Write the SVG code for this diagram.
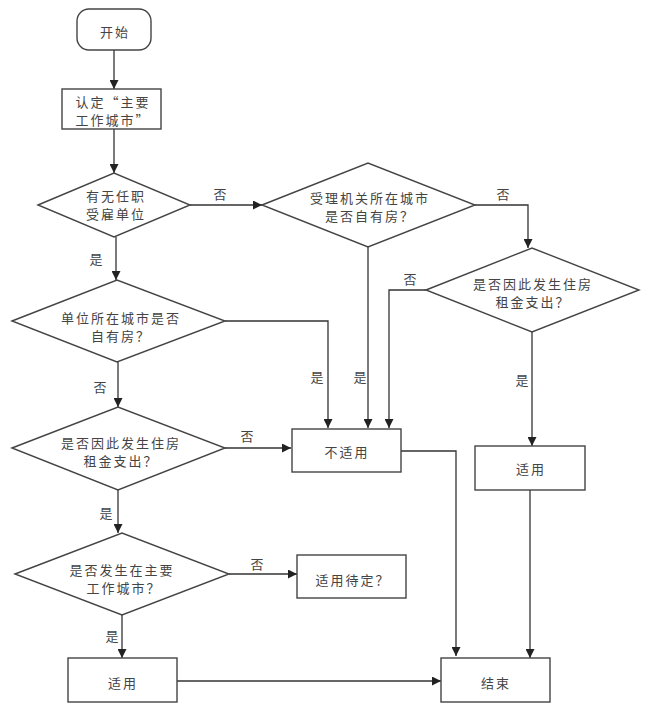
<svg xmlns="http://www.w3.org/2000/svg" width="646" height="710" viewBox="0 0 646 710">
<defs>
<marker id="ah" viewBox="0 0 10 10" refX="10" refY="5" markerWidth="9" markerHeight="9" markerUnits="userSpaceOnUse" orient="auto">
<path d="M0,0 L10,5 L0,10 z" fill="#222"/>
</marker>
<style>
.n{fill:#fff;stroke:#444;stroke-width:1.4}
.t{font-family:"Noto Sans CJK SC","Noto Sans",sans-serif;font-size:13px;fill:#444;text-anchor:middle;dominant-baseline:central;letter-spacing:2px}
.l{font-family:"Noto Sans CJK SC","Noto Sans",sans-serif;font-size:13px;fill:#444;text-anchor:middle;dominant-baseline:central}
.c{fill:none;stroke:#333;stroke-width:1.3;marker-end:url(#ah)}
</style>
</defs>
<rect width="646" height="710" fill="#fff"/>
<g id="connectors">
<path class="c" d="M114,50 V89"/>
<path class="c" d="M114,129 V173"/>
<path class="c" d="M190,205 H262"/>
<path class="c" d="M116,237 V280"/>
<path class="c" d="M118,362 V407"/>
<path class="c" d="M225,321 H328 V428"/>
<path class="c" d="M368,247 V428"/>
<path class="c" d="M475,205 H528 V248"/>
<path class="c" d="M426,290 H389 V428"/>
<path class="c" d="M532,332 V446"/>
<path class="c" d="M225,448 H291"/>
<path class="c" d="M118,490 V533"/>
<path class="c" d="M229,574 H297"/>
<path class="c" d="M122,615 V658"/>
<path class="c" d="M177,681 H441"/>
<path class="c" d="M401,451 H456 V656"/>
<path class="c" d="M530,490 V658"/>
<text class="l" x="220" y="193">否</text>
<text class="l" x="96" y="258">是</text>
<text class="l" x="503" y="193">否</text>
<text class="l" x="410" y="278">否</text>
<text class="l" x="100" y="386">否</text>
<text class="l" x="317" y="376">是</text>
<text class="l" x="360" y="376">是</text>
<text class="l" x="522" y="379">是</text>
<text class="l" x="247" y="435">否</text>
<text class="l" x="106" y="512">是</text>
<text class="l" x="257" y="563">否</text>
<text class="l" x="112" y="635">是</text>
</g>
<g id="start">
<rect class="n" x="77" y="9" width="74" height="41" rx="12"/>
<text class="t" x="115" y="31">开始</text>
</g>
<g id="define">
<rect class="n" x="62" y="89" width="99" height="40"/>
<text class="t" x="113" y="101">认定“主要</text>
<text class="t" x="113" y="119">工作城市”</text>
</g>
<g id="d1">
<polygon class="n" points="38,205 114,173 190,205 114,237"/>
<text class="t" x="116" y="195">有无任职</text>
<text class="t" x="116" y="213">受雇单位</text>
</g>
<g id="d2">
<polygon class="n" points="262,205 368,163 475,205 368,247"/>
<text class="t" x="370" y="197">受理机关所在城市</text>
<text class="t" x="370" y="215">是否自有房？</text>
</g>
<g id="d3">
<polygon class="n" points="426,290 532,248 639,290 532,332"/>
<text class="t" x="533" y="283">是否因此发生住房</text>
<text class="t" x="533" y="301">租金支出？</text>
</g>
<g id="d4">
<polygon class="n" points="12,321 117,280 225,321 117,362"/>
<text class="t" x="121" y="317">单位所在城市是否</text>
<text class="t" x="121" y="335">自有房？</text>
</g>
<g id="d5">
<polygon class="n" points="12,448 118,407 225,448 118,490"/>
<text class="t" x="121" y="442">是否因此发生住房</text>
<text class="t" x="121" y="460">租金支出？</text>
</g>
<g id="d6">
<polygon class="n" points="15,574 122,533 229,574 122,615"/>
<text class="t" x="122" y="569">是否发生在主要</text>
<text class="t" x="124" y="587">工作城市？</text>
</g>
<g id="na">
<rect class="n" x="292" y="429" width="109" height="43"/>
<text class="t" x="347" y="451">不适用</text>
</g>
<g id="applyR">
<rect class="n" x="475" y="446" width="110" height="44"/>
<text class="t" x="531" y="468">适用</text>
</g>
<g id="pending">
<rect class="n" x="297" y="555" width="109" height="43"/>
<text class="t" x="353" y="579">适用待定？</text>
</g>
<g id="applyL">
<rect class="n" x="68" y="658" width="109" height="44"/>
<text class="t" x="123" y="682">适用</text>
</g>
<g id="end">
<rect class="n" x="441" y="658" width="109" height="44"/>
<text class="t" x="496" y="682">结束</text>
</g>
</svg>
